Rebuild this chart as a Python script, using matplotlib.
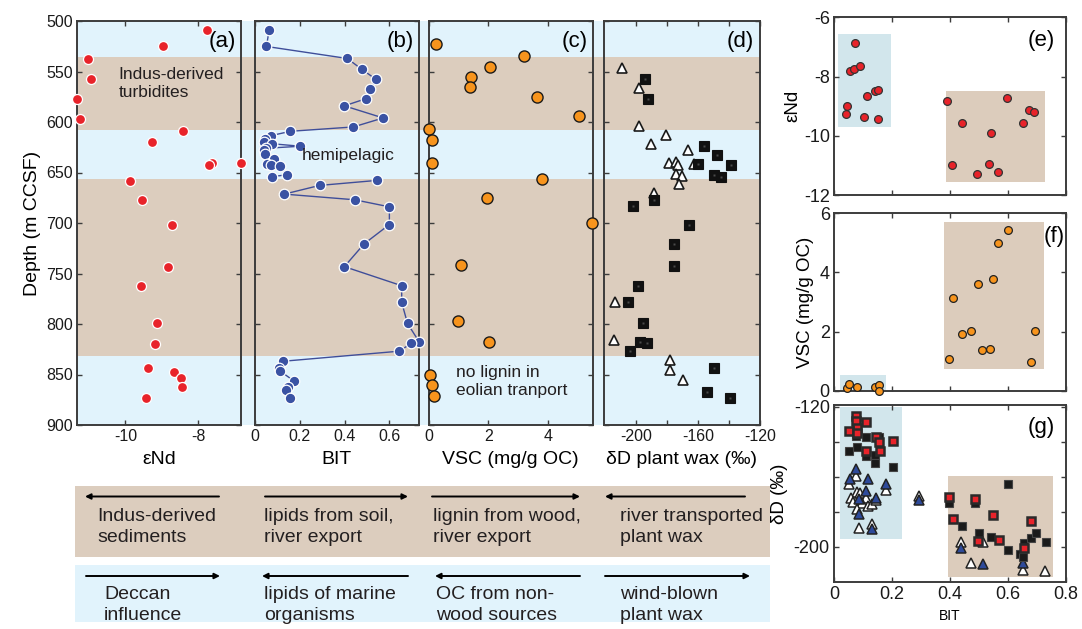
import numpy as np
import matplotlib
matplotlib.use("Agg")
import matplotlib.pyplot as plt

plt.rcParams['font.family'] = ['Liberation Sans', 'DejaVu Sans']
plt.rcParams['axes.unicode_minus'] = False

# ---------------- data ----------------
# (a) eNd vs depth
end_depth = [509.3, 525.2, 537.4, 557.9, 576.8, 596.6, 609.2, 620.1, 640.3, 643.0, 640.3,
             658.2, 677.7, 702.2, 743.2, 762.1, 799.5, 819.7, 843.8, 847.1, 853.1, 862.3, 873.6]
end_vals = [-7.76, -8.97, -11.02, -10.95, -11.32, -11.25, -8.42, -9.26, -7.63, -7.70, -6.83,
            -9.88, -9.54, -8.71, -8.82, -9.57, -9.14, -9.18, -9.37, -8.66, -8.47, -8.45, -9.44]

# (b) BIT vs depth (line broken between hemipelagic and turbidite intervals)
bit_depth = [509.3, 525.2, 537.1, 547.7, 557.6, 567.2, 576.8, 584.0, 596.0, 604.9, 609.2,
             613.5, 617.0, 619.5, 621.5, 624.0, 626.0, 628.0, 632.0, 636.5, 641.5, 643.0, 643.5, 652.2, 654.2,
             657.8, 662.8, 671.4, 677.0, 684.0, 701.5, 720.7, 743.2, 762.1, 778.6, 799.5, 817.7, 819.3, 826.9,
             836.9, 843.5, 846.8, 856.7, 862.0, 865.6, 872.9]
bit_vals = [0.063, 0.051, 0.412, 0.476, 0.539, 0.515, 0.497, 0.399, 0.572, 0.439, 0.158,
            0.072, 0.045, 0.042, 0.075, 0.203, 0.050, 0.040, 0.046, 0.084, 0.054, 0.072, 0.110, 0.143, 0.076,
            0.546, 0.288, 0.131, 0.445, 0.600, 0.600, 0.487, 0.399, 0.655, 0.655, 0.681, 0.733, 0.696, 0.645,
            0.125, 0.109, 0.113, 0.176, 0.146, 0.139, 0.155]
bit_break_depth = 656.0

# (c) VSC vs depth
vsc_depth = [522.8, 535.1, 546.0, 555.9, 565.5, 574.8, 594.3, 607.2, 617.8, 640.3, 656.2,
             675.7, 699.9, 741.2, 797.5, 817.7, 850.8, 860.0, 871.6]
vsc_vals = [0.24, 3.17, 2.04, 1.43, 1.39, 3.61, 5.01, 0.03, 0.11, 0.13, 3.80,
            1.96, 5.46, 1.09, 0.99, 2.02, 0.06, 0.13, 0.19]

# (d) dD plant wax vs depth
dd_tri_depth = [546.3, 566.2, 603.6, 612.5, 621.8, 627.7, 640.6, 639.6, 643.0, 642.0, 651.6,
                653.2, 661.5, 670.4, 778.0, 816.0, 835.9, 845.8, 855.7]
dd_tri_vals = [-209.0, -197.8, -197.8, -180.4, -190.3, -166.2, -178.5, -174.0, -173.1, -162.2, -174.0,
               -170.3, -172.5, -188.2, -213.3, -214.0, -178.3, -178.3, -169.7]
dd_sq_depth = [557.2, 576.8, 623.8, 633.0, 642.0, 642.6, 652.5, 654.5, 677.7, 683.6, 701.8,
               721.0, 742.5, 762.1, 778.6, 799.5, 817.7, 819.3, 826.9, 843.5, 867.0, 873.3]
dd_sq_vals = [-194.0, -192.3, -155.9, -147.8, -160.2, -138.7, -149.5, -145.4, -188.6, -201.9, -165.6,
              -175.7, -175.3, -198.3, -204.9, -195.5, -197.2, -192.9, -203.7, -149.7, -154.2, -139.2]

# depth intervals: (top, bottom, kind)
band_top = [500, 536, 608, 656, 832]
band_bot = [536, 608, 656, 832, 900]
band_kind = ['hemi', 'turb', 'hemi', 'turb', 'hemi']

# (e) BIT vs eNd
e_bit_hemi = [0.071, 0.056, 0.069, 0.091, 0.140, 0.153, 0.113, 0.046, 0.040, 0.104, 0.151]
e_end_hemi = [-6.88, -7.80, -7.73, -7.64, -8.48, -8.45, -8.67, -8.99, -9.28, -9.38, -9.44]
e_bit_turb = [0.391, 0.595, 0.440, 0.673, 0.690, 0.650, 0.542, 0.407, 0.534, 0.493, 0.564]
e_end_turb = [-8.84, -8.71, -9.56, -9.14, -9.19, -9.58, -9.90, -11.00, -10.94, -11.30, -11.23]

# (f) BIT vs VSC
f_bit_hemi = [0.045, 0.051, 0.081, 0.142, 0.154, 0.155]
f_vsc_hemi = [0.09, 0.24, 0.12, 0.12, 0.18, 0.00]
f_bit_turb = [0.396, 0.411, 0.442, 0.473, 0.497, 0.512, 0.539, 0.547, 0.567, 0.599, 0.679, 0.693]
f_vsc_turb = [1.08, 3.13, 1.93, 2.03, 3.61, 1.38, 1.42, 3.78, 4.99, 5.44, 0.96, 2.03]

# (g) BIT vs dD
g_red_bit = [0.075, 0.075, 0.079, 0.051, 0.110, 0.080, 0.144, 0.155, 0.204, 0.109, 0.158,
             0.396, 0.411, 0.487, 0.549, 0.680, 0.498, 0.569, 0.655]
g_red_dd = [-125.2, -128.3, -132.0, -133.6, -128.7, -134.9, -137.4, -140.3, -139.4, -145.4, -145.4,
            -171.7, -183.9, -172.5, -181.6, -185.5, -196.5, -195.9, -200.8]
g_blk_bit = [0.075, 0.109, 0.155, 0.079, 0.051, 0.109, 0.143, 0.140, 0.204, 0.601, 0.396,
             0.487, 0.443, 0.499, 0.540, 0.655, 0.600, 0.641, 0.653, 0.681, 0.695, 0.730]
g_blk_dd = [-136.5, -137.4, -137.4, -143.2, -145.4, -148.1, -147.3, -152.0, -154.3, -164.2, -174.8,
            -175.2, -188.2, -192.1, -194.6, -198.1, -201.9, -204.3, -205.6, -195.0, -192.3, -197.1]
g_btri_bit = [0.075, 0.054, 0.117, 0.178, 0.109, 0.086, 0.146, 0.294, 0.086, 0.132, 0.437, 0.515, 0.653]
g_btri_dd = [-155.4, -161.3, -161.3, -164.0, -168.0, -172.9, -172.3, -173.3, -181.0, -189.7, -200.8, -209.7, -209.3]
g_wtri_bit = [0.077, 0.051, 0.080, 0.178, 0.059, 0.089, 0.109, 0.066, 0.095, 0.117, 0.080, 0.132, 0.144,
              0.294, 0.132, 0.086, 0.437, 0.515, 0.474, 0.653, 0.727]
g_wtri_dd = [-159.3, -164.0, -168.8, -167.8, -172.4, -169.4, -171.9, -174.2, -175.2, -176.6, -178.5, -175.8,
             -173.3, -170.9, -187.2, -189.3, -197.5, -197.3, -209.1, -213.0, -213.9]

# bottom interpretation boxes
box_turb_text = ["Indus-derived\nsediments", "lipids from soil,\nriver export",
                 "lignin from wood,\nriver export", "river transported\nplant wax"]
box_hemi_text = ["Deccan\ninfluence", "lipids of marine\norganisms",
                 "OC from non-\nwood sources", "wind-blown\nplant wax"]

# ---------------- style ----------------
BLUE_BG = '#E1F3FC'
BROWN_BG = '#DCCDBE'
BOX_BLUE = '#D2E6EC'
BOX_BROWN = '#DCCCBC'
RED = '#E8232A'
NAVY = '#3A52A3'
ORANGE = '#F7941D'
SPINE = '#3C3C3C'
band_col = {'hemi': BLUE_BG, 'turb': BROWN_BG}

W, H = 1082, 629
fig = plt.figure(figsize=(W / 100, H / 100), dpi=100)


def px_axes(x0, y0, x1, y1, **kw):
    return fig.add_axes([x0 / W, 1 - y1 / H, (x1 - x0) / W, (y1 - y0) / H], **kw)


def style(ax, tick_size=11.5):
    for s in ax.spines.values():
        s.set_color(SPINE)
        s.set_linewidth(1.4)
    ax.tick_params(direction='in', length=3.5, width=1.0, color=SPINE,
                   top=True, right=True, labelsize=tick_size, labelcolor='#1a1a1a', pad=3)


# full-figure overlay in pixel coordinates for layout elements
ax_fig = px_axes(0, 0, W, H, zorder=-5)
ax_fig.set_xlim(0, W)
ax_fig.set_ylim(H, 0)
ax_fig.axis('off')

# background depth bands spanning panels a-d
ax_bg = px_axes(77, 21, 760, 425, zorder=-2)
ax_bg.set_ylim(900, 500)
ax_bg.set_xlim(0, 1)
for t, b, k in zip(band_top, band_bot, band_kind):
    ax_bg.axhspan(t, b, color=band_col[k], lw=0)
ax_bg.axis('off')

panel_x = [(77, 241), (255, 418.5), (428.5, 592.5), (604, 760)]
axes = [px_axes(x0, 21, x1, 425) for x0, x1 in panel_x]
for ax in axes:
    ax.set_facecolor('none')
    ax.set_ylim(900, 500)
    ax.set_yticks(np.arange(500, 901, 50))
    style(ax)
    ax.set_yticklabels([])
axa, axb, axc, axd = axes

# (a)
axa.set_yticklabels([str(v) for v in range(500, 901, 50)])
axa.set_ylabel('Depth (m CCSF)', fontsize=14, labelpad=4)
axa.plot(end_vals, end_depth, 'o', ms=7.2, mfc=RED, mec='white', mew=0.9, clip_on=False, zorder=3)
axa.set_xlim(-11.33, -6.82)
axa.set_xticks([-10, -8])
axa.set_xlabel('εNd', fontsize=14, labelpad=5)
axa.text(0.97, 0.975, '(a)', transform=axa.transAxes, ha='right', va='top', fontsize=16)
axa.text(0.255, 0.885, 'Indus-derived\nturbidites', transform=axa.transAxes, ha='left', va='top',
         fontsize=12.5, color='#231F20', linespacing=1.25)

# (b)
bd = np.array(bit_depth)
bv = np.array(bit_vals)
for mask in (bd < bit_break_depth, bd >= bit_break_depth):
    axb.plot(bv[mask], bd[mask], '-', color='#3F4E9A', lw=1.0, zorder=2)
axb.plot(bv, bd, 'o', ms=7.6, mfc=NAVY, mec='white', mew=0.9, clip_on=False, zorder=3)
axb.set_xlim(0, 0.73)
axb.set_xticks([0, 0.2, 0.4, 0.6])
axb.set_xticklabels(['0', '0.2', '0.4', '0.6'])
axb.set_xlabel('BIT', fontsize=14, labelpad=5)
axb.text(0.97, 0.975, '(b)', transform=axb.transAxes, ha='right', va='top', fontsize=16)
axb.text(0.57, 0.668, 'hemipelagic', transform=axb.transAxes, ha='center', va='center',
         fontsize=12.5, color='#231F20')

# (c)
axc.plot(vsc_vals, vsc_depth, 'o', ms=8.0, mfc=ORANGE, mec='#1a1a1a', mew=1.0, clip_on=False, zorder=3)
axc.set_xlim(0, 5.47)
axc.set_xticks([0, 2, 4])
axc.set_xlabel('VSC (mg/g OC)', fontsize=14, labelpad=5)
axc.text(0.97, 0.975, '(c)', transform=axc.transAxes, ha='right', va='top', fontsize=16)
axc.text(0.17, 0.148, 'no lignin in\neolian tranport', transform=axc.transAxes, ha='left', va='top',
         fontsize=12.5, color='#231F20', linespacing=1.25)

# (d)
axd.plot(dd_tri_vals, dd_tri_depth, '^', ms=7.8, mfc='white', mec='#1a1a1a', mew=1.2, zorder=3)
axd.plot(dd_sq_vals, dd_sq_depth, 's', ms=6.6, mfc='#111111', mec='#111111', mew=0.8, zorder=3)
axd.plot(dd_sq_vals, dd_sq_depth, 's', ms=1.6, mfc='#4a4a4a', mec='none', zorder=4)
axd.set_xlim(-220.5, -120)
axd.set_xticks([-200, -180, -160, -140, -120])
axd.set_xticklabels(['-200', '', '-160', '', '-120'])
axd.set_xlabel('δD plant wax (‰)', fontsize=14, labelpad=5)
axd.text(0.96, 0.975, '(d)', transform=axd.transAxes, ha='right', va='top', fontsize=16)

# right-hand cross plots
axe = px_axes(834, 17.3, 1066, 195)
axf = px_axes(834, 213.3, 1066, 390.7)
axg = px_axes(834, 405, 1066, 582.3)
for ax in (axe, axf, axg):
    style(ax, tick_size=13)
    ax.set_xlim(0, 0.8)
    ax.set_xticks([0, 0.2, 0.4, 0.6, 0.8])
axe.set_xticklabels([])
axf.set_xticklabels([])

# (e)
axe.set_ylim(-12, -6)
axe.set_yticks([-12, -10, -8, -6])
axe.add_patch(plt.Rectangle((0.014, -9.69), 0.184, 3.13, color=BOX_BLUE, lw=0, zorder=0))
axe.add_patch(plt.Rectangle((0.386, -11.55), 0.341, 3.06, color=BOX_BROWN, lw=0, zorder=0))
axe.plot(e_bit_hemi, e_end_hemi, 'o', ms=5.6, mfc=RED, mec='#333333', mew=0.9, zorder=3)
axe.plot(e_bit_turb, e_end_turb, 'o', ms=5.6, mfc=RED, mec='#333333', mew=0.9, zorder=3)
axe.set_ylabel('εNd', fontsize=13.5, labelpad=2)
axe.text(0.95, 0.93, '(e)', transform=axe.transAxes, ha='right', va='top', fontsize=16)

# (f)
axf.set_ylim(0, 6)
axf.set_yticks([0, 2, 4, 6])
axf.add_patch(plt.Rectangle((0.02, -0.01), 0.158, 0.53, color=BOX_BLUE, lw=0, zorder=0, clip_on=False))
axf.add_patch(plt.Rectangle((0.379, 0.74), 0.345, 4.97, color=BOX_BROWN, lw=0, zorder=0))
axf.plot(f_bit_hemi, f_vsc_hemi, 'o', ms=5.6, mfc=ORANGE, mec='#222222', mew=0.9, zorder=3, clip_on=False)
axf.plot(f_bit_turb, f_vsc_turb, 'o', ms=5.6, mfc=ORANGE, mec='#222222', mew=0.9, zorder=3)
axf.set_ylabel('VSC (mg/g OC)', fontsize=13.5, labelpad=4)
axf.text(0.995, 0.93, '(f)', transform=axf.transAxes, ha='right', va='top', fontsize=16)

# (g)
axg.set_ylim(-220.3, -119)
axg.set_yticks([-200, -180, -160, -140, -120])
axg.set_yticklabels(['-200', '', '', '', '-120'])
axg.add_patch(plt.Rectangle((0.02, -195.5), 0.214, 75.5, color=BOX_BLUE, lw=0, zorder=0))
axg.add_patch(plt.Rectangle((0.394, -217.2), 0.362, 57.5, color=BOX_BROWN, lw=0, zorder=0))
axg.plot(g_wtri_bit, g_wtri_dd, '^', ms=6.6, mfc='white', mec='#222222', mew=1.1, zorder=3)
axg.plot(g_btri_bit, g_btri_dd, '^', ms=6.6, mfc='#2E4A9A', mec='#222222', mew=1.1, zorder=3)
axg.plot(g_blk_bit, g_blk_dd, 's', ms=5.8, mfc='#1a1a1a', mec='#444444', mew=0.8, zorder=4)
axg.plot(g_red_bit, g_red_dd, 's', ms=5.4, mfc=RED, mec='#2a2a2a', mew=1.8, zorder=5)
axg.set_ylabel('δD (‰)', fontsize=13.5, labelpad=4)
axg.set_xticklabels(['0', '0.2', '0.4', '0.6', '0.8'])
axg.set_xlabel('BIT', fontsize=10, labelpad=4)
axg.text(0.95, 0.93, '(g)', transform=axg.transAxes, ha='right', va='top', fontsize=16)

# bottom interpretation boxes
ax_fig.add_patch(plt.Rectangle((75, 486), 695, 71, color=BROWN_BG, lw=0))
ax_fig.add_patch(plt.Rectangle((75, 565), 695, 57, color=BLUE_BG, lw=0))

arrow_kw = dict(arrowstyle='-|>', mutation_scale=8, lw=1.4, color='black', shrinkA=0, shrinkB=0)
row1_arrows = [(219, 85), (265, 408), (432, 580), (745, 605)]
row2_arrows = [(86, 220), (408, 262), (580, 435), (605, 750)]
for (xs, xe) in row1_arrows:
    ax_fig.annotate('', xy=(xe, 496.5), xytext=(xs, 496.5), arrowprops=arrow_kw)
for (xs, xe) in row2_arrows:
    ax_fig.annotate('', xy=(xe, 576), xytext=(xs, 576), arrowprops=arrow_kw)

row1_x = [97, 264, 433, 620]
row2_x = [104, 264, 436, 620]
for x, t in zip(row1_x, box_turb_text):
    ax_fig.text(x, 527, t, ha='left', va='center', fontsize=14, color='#231F20', linespacing=1.3)
for x, t in zip(row2_x, box_hemi_text):
    ax_fig.text(x, 605, t, ha='left', va='center', fontsize=14, color='#231F20', linespacing=1.3)

fig.savefig('out.png', dpi=100)
